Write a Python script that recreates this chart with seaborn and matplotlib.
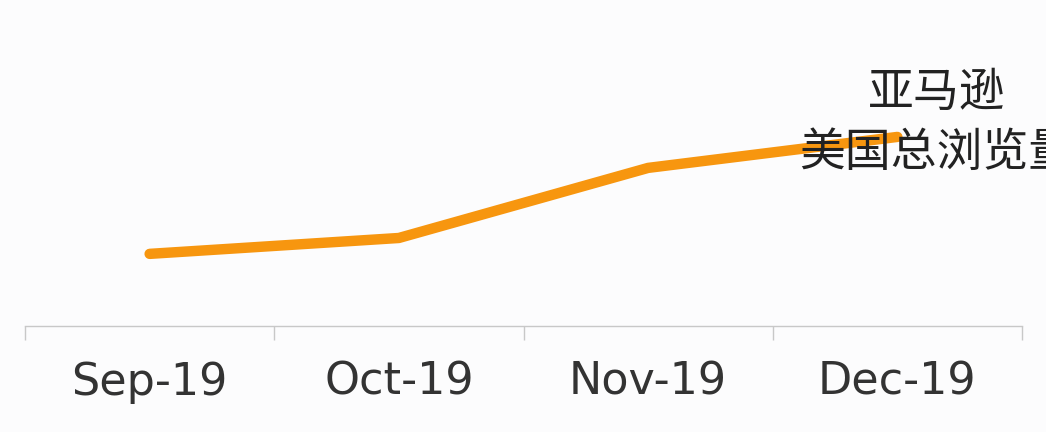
import numpy as np
import pandas as pd
import matplotlib
matplotlib.use('Agg')
import matplotlib.pyplot as plt
import seaborn as sns

# data (arbitrary units)
months = ['Sep-19', 'Oct-19', 'Nov-19', 'Dec-19']
views = [1.77, 2.16, 3.88, 4.64]
series_name = '亚马逊\n美国总浏览量'

sns.set_style('white')
plt.rcParams['font.family'] = ['DejaVu Sans', 'Noto Sans CJK SC']

df = pd.DataFrame({'month': months, 'views': views, 'pos': np.arange(len(months))})

fig = plt.figure(figsize=(10.46, 4.32), dpi=100, facecolor='#fcfcfd')
ax = fig.add_axes([25/1046, 106/432, 997/1046, 326/432])
ax.set_facecolor('#fcfcfd')

sns.lineplot(x='pos', y='views', data=df, ax=ax, color='#f7960f', linewidth=7.5,
             solid_capstyle='round', solid_joinstyle='round')

ax.set_xlim(-0.5, 3.5)
ax.set_ylim(0, 8)
ax.set_xticks(df['pos'])
ax.set_xticklabels(months, fontsize=32, color='#333333')
ax.set_xticks(np.arange(-0.5, 4, 1), minor=True)
ax.tick_params(axis='x', which='major', bottom=True, length=0, pad=25)
ax.tick_params(axis='x', which='minor', bottom=True, length=10, width=1,
               color='#c8c8c8', direction='out')
ax.set_yticks([])
ax.set_xlabel('')
ax.set_ylabel('')
for s in ['top', 'left', 'right']:
    ax.spines[s].set_visible(False)
ax.spines['bottom'].set_color('#c8c8c8')
ax.spines['bottom'].set_linewidth(1)

# series label next to last point (cut off at the right edge like the original)
ax.text(3.16, views[-1] + 0.35, series_name, ha='center', va='center', fontsize=33,
        family=['Noto Sans CJK SC'], fontweight='light', color='#222222',
        linespacing=1.3, clip_on=False)

fig.savefig('out.png', dpi=100, facecolor=fig.get_facecolor())
